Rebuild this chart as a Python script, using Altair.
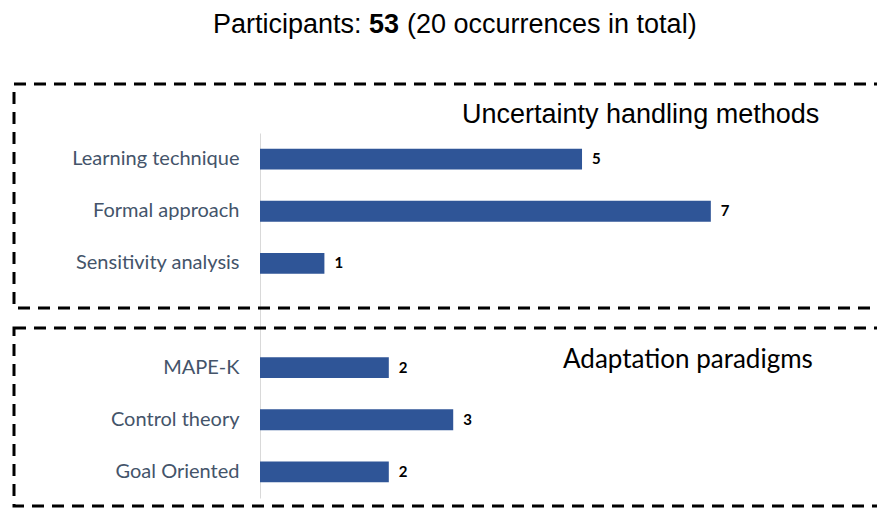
import altair as alt
import pandas as pd

# ---- data ----
categories = ["Learning technique", "Formal approach", "Sensitivity analysis", "",
              "MAPE-K", "Control theory", "Goal Oriented\u00a0"]
values = [5, 7, 1, None, 2, 3, 2]

title_parts = ["Participants:", "53", "(20 occurrences in total)"]
group_titles = ["Uncertainty handling methods", "Adaptation paradigms"]

rows = [{"cat": c, "val": v} for c, v in zip(categories, values) if v is not None]
df = pd.DataFrame(rows)

BAR = "#2F5597"
LABEL = "#44546A"
XMAX = 9.58

yscale = alt.Scale(domain=categories, paddingInner=0.6, paddingOuter=0.3)
yenc = alt.Y("cat:N", scale=yscale,
             axis=alt.Axis(title=None, ticks=False, domainColor="#D9D9D9", domainWidth=1,
                           labelColor=LABEL, labelFont="Lato", labelFontSize=20,
                           labelPadding=21, grid=False, labelLimit=300))
xenc = alt.X("val:Q", scale=alt.Scale(domain=[0, XMAX], nice=False, zero=True), axis=None)

base = alt.Chart(df)
bars = base.mark_bar(color=BAR).encode(y=yenc, x=xenc)
labels = base.mark_text(align="left", baseline="middle", dx=10, font="Lato",
                        fontWeight="bold", fontSize=15, color="black").encode(
    y=alt.Y("cat:N", scale=yscale), x=xenc, text="val:Q")

one = alt.Chart(pd.DataFrame({"a": [0]}))

def box(y1, y2):
    return one.mark_rect(fillOpacity=0, stroke="black", strokeWidth=3,
                         strokeDash=[12, 8]).encode(
        x=alt.value(-246), x2=alt.value(660), y=alt.value(y1), y2=alt.value(y2))

top_box = box(-49, 175)
bot_box = box(195, 373)

def txt(s, x, y, font="Liberation Sans", size=27, weight="normal"):
    return one.mark_text(text=s, align="left", baseline="alphabetic", font=font,
                         fontSize=size, fontWeight=weight, color="black").encode(
        x=alt.value(x), y=alt.value(y))

t1 = txt(title_parts[0], -47, -100)
t2 = txt(title_parts[1], 109, -100, weight="bold")
t3 = txt(title_parts[2], 147, -100)
g1 = txt(group_titles[0], 202, -10)
g2 = txt(group_titles[1], 303, 235, font="Lato", size=26)

chart = alt.layer(top_box, bot_box, bars, labels, t1, t2, t3, g1, g2).properties(
    width=617, height=365,
    autosize=alt.AutoSizeParams(type="none"),
    padding={"left": 252, "top": 125, "right": 0, "bottom": 12},
).configure_view(stroke=None)

chart.save("out.html", embed_options={"renderer": "svg", "actions": False})
